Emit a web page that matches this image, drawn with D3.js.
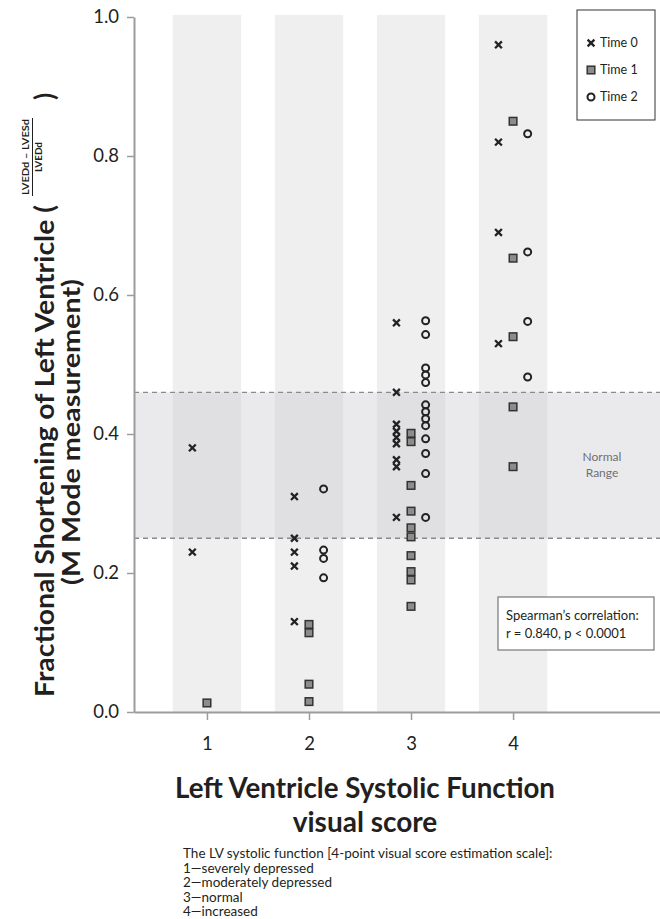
<!DOCTYPE html>
<html>
<head>
<meta charset="utf-8">
<script src="https://cdn.jsdelivr.net/npm/d3@7"></script>
<style>
  body { margin: 0; background: #fff; }
  text { font-family: Lato, "Open Sans", sans-serif; fill: #231f20; }
</style>
</head>
<body>
<div id="canvas"></div>
<script>
// valores: [puntaje visual, acortamiento fraccional]
var scores = [1, 2, 3, 4];
var yTicks = [0, 0.2, 0.4, 0.6, 0.8, 1.0];
var normalRange = [0.25, 0.46];

var time0 = [
  [1, 0.38], [1, 0.23],
  [2, 0.31], [2, 0.25], [2, 0.23], [2, 0.21], [2, 0.13],
  [3, 0.56], [3, 0.46], [3, 0.414], [3, 0.404], [3, 0.395], [3, 0.386], [3, 0.363], [3, 0.353], [3, 0.28],
  [4, 0.96], [4, 0.82], [4, 0.69], [4, 0.53]
];
var time1 = [
  [1, 0.013],
  [2, 0.126], [2, 0.114], [2, 0.04], [2, 0.015],
  [3, 0.401], [3, 0.389], [3, 0.326], [3, 0.289], [3, 0.265], [3, 0.252], [3, 0.225], [3, 0.202], [3, 0.19], [3, 0.152],
  [4, 0.85], [4, 0.653], [4, 0.54], [4, 0.439], [4, 0.353]
];
var time2 = [
  [2, 0.321], [2, 0.233], [2, 0.221], [2, 0.193],
  [3, 0.563], [3, 0.543], [3, 0.495], [3, 0.485], [3, 0.474], [3, 0.442], [3, 0.432], [3, 0.422], [3, 0.412], [3, 0.393], [3, 0.372], [3, 0.343], [3, 0.28],
  [4, 0.832], [4, 0.662], [4, 0.562], [4, 0.482]
];
var legendLabels = ["Time 0", "Time 1", "Time 2"];
var scaleNotes = [
  "The LV systolic function [4-point visual score estimation scale]:",
  "1\u2014severely depressed",
  "2\u2014moderately depressed",
  "3\u2014normal",
  "4\u2014increased"
];

var W = 660, H = 919;
var svg = d3.select("#canvas").append("svg")
  .attr("width", W)
  .attr("height", H);

var x = d3.scaleLinear().domain([0.285, 5.44]).range([134, 660]);
var y = d3.scaleLinear().domain([0, 1]).range([712, 17]);
var offset = 0.143; // desplazamiento de cada serie dentro de la columna
var half = 0.335;   // medio ancho de la banda de cada columna

// bandas grises de cada puntaje
svg.selectAll("rect.col")
  .data(scores)
  .enter().append("rect")
  .attr("class", "col")
  .attr("x", d => x(d - half))
  .attr("width", d => x(d + half) - x(d - half))
  .attr("y", y(1.003))
  .attr("height", y(0) - y(1.003))
  .style("fill", "#efeff0");

// rango normal
svg.append("rect")
  .attr("x", x.range()[0])
  .attr("width", x.range()[1] - x.range()[0])
  .attr("y", y(normalRange[1]))
  .attr("height", y(normalRange[0]) - y(normalRange[1]))
  .style("fill", "#c4c4ca")
  .style("opacity", 0.36);

svg.selectAll("line.nr")
  .data(normalRange)
  .enter().append("line")
  .attr("class", "nr")
  .attr("x1", x.range()[0]).attr("x2", x.range()[1])
  .attr("y1", d => y(d)).attr("y2", d => y(d))
  .style("stroke", "#8a8a8e")
  .style("stroke-width", 1.3)
  .style("stroke-dasharray", "5,4");

svg.append("text")
  .attr("x", 602).attr("y", 461)
  .attr("text-anchor", "middle")
  .style("font-size", "12px").style("fill", "#6f6f73")
  .text("Normal");
svg.append("text")
  .attr("x", 602).attr("y", 477)
  .attr("text-anchor", "middle")
  .style("font-size", "12px").style("fill", "#6f6f73")
  .text("Range");

// ejes
var yAxis = svg.append("g")
  .attr("transform", "translate(" + x.range()[0] + ",0)")
  .call(d3.axisLeft(y).tickValues(yTicks).tickFormat(d3.format(".1f")).tickSize(7).tickSizeOuter(0).tickPadding(8));
var xAxis = svg.append("g")
  .attr("transform", "translate(0," + y(0) + ")")
  .call(d3.axisBottom(x).tickValues(scores).tickFormat(d3.format("d")).tickSize(8).tickSizeOuter(0).tickPadding(17));

[yAxis, xAxis].forEach(function (g) {
  g.select(".domain").style("stroke", "#9c9c9c").style("stroke-width", 2);
  g.selectAll(".tick line").style("stroke", "#9c9c9c").style("stroke-width", 1.5);
  g.selectAll(".tick text").style("font-size", "18.5px").style("font-family", "Lato, sans-serif").style("fill", "#231f20");
});

// marcadores
function cross(g, cx, cy, s) {
  g.append("path")
    .attr("d", "M" + (cx - s) + "," + (cy - s) + "L" + (cx + s) + "," + (cy + s) +
               "M" + (cx - s) + "," + (cy + s) + "L" + (cx + s) + "," + (cy - s))
    .style("stroke", "#222").style("stroke-width", 2.3).style("fill", "none");
}
function square(g, cx, cy) {
  g.append("rect")
    .attr("x", cx - 3.8).attr("y", cy - 3.8)
    .attr("width", 7.6).attr("height", 7.6)
    .style("fill", "#8c8c8c").style("stroke", "#333").style("stroke-width", 1.5);
}
function circle(g, cx, cy) {
  g.append("circle")
    .attr("cx", cx).attr("cy", cy).attr("r", 3.5)
    .style("fill", "none").style("stroke", "#222").style("stroke-width", 2);
}

var pts = svg.append("g");
time0.forEach(d => cross(pts, x(d[0] - offset), y(d[1]), 3.4));
time1.forEach(d => square(pts, x(d[0]), y(d[1])));
time2.forEach(d => circle(pts, x(d[0] + offset), y(d[1])));

// leyenda
svg.append("rect")
  .attr("x", 577).attr("y", 10).attr("width", 78).attr("height", 110)
  .style("fill", "#fff").style("stroke", "#333").style("stroke-width", 1);
var lg = svg.append("g");
cross(lg, 591, 43, 3.4);
square(lg, 591, 70);
circle(lg, 591, 97);
legendLabels.forEach(function (t, i) {
  lg.append("text")
    .attr("x", 600).attr("y", 47 + i * 27)
    .style("font-size", "12.5px")
    .text(t);
});

// caja de correlacion
svg.append("rect")
  .attr("x", 498).attr("y", 597).attr("width", 156).attr("height", 53)
  .style("fill", "#fff").style("stroke", "#777").style("stroke-width", 1.2);
svg.append("text").attr("x", 506).attr("y", 620).style("font-size", "13px").text("Spearman\u2019s correlation:");
svg.append("text").attr("x", 506).attr("y", 638).style("font-size", "13px").text("r = 0.840, p < 0.0001");

// titulo eje y (rotado)
function vtext(cx, cy, txt, size, anchor, len) {
  var t = svg.append("text")
    .attr("transform", "translate(" + cx + "," + cy + ") rotate(-90)")
    .attr("text-anchor", anchor)
    .style("font-size", size + "px")
    .style("font-weight", 700)
    .text(txt);
  if (len) t.attr("textLength", len).attr("lengthAdjust", "spacingAndGlyphs");
  return t;
}
vtext(54, 697, "Fractional Shortening of Left Ventricle (", 26, "start", 492);
vtext(29, 157, "LVEDd \u2013 LVESd", 9, "middle", 76);
vtext(42, 157, "LVEDd", 9, "middle", 30);
svg.append("line")
  .attr("x1", 32.5).attr("x2", 32.5).attr("y1", 118).attr("y2", 196)
  .style("stroke", "#231f20").style("stroke-width", 1);
vtext(54, 100, ")", 26, "start");
vtext(80, 432, "(M Mode measurement)", 24, "middle", 306);

// titulo eje x
svg.append("text")
  .attr("x", 365).attr("y", 798)
  .attr("text-anchor", "middle")
  .attr("textLength", 380).attr("lengthAdjust", "spacingAndGlyphs")
  .style("font-size", "28px").style("font-weight", 700)
  .text("Left Ventricle Systolic Function");
svg.append("text")
  .attr("x", 365).attr("y", 832)
  .attr("text-anchor", "middle")
  .style("font-size", "28px").style("font-weight", 700)
  .text("visual score");

// notas de la escala
svg.selectAll("text.note")
  .data(scaleNotes)
  .enter().append("text")
  .attr("class", "note")
  .attr("x", 183)
  .attr("y", (d, i) => 858 + i * 14.5)
  .style("font-size", "13.5px")
  .text(d => d);
</script>
</body>
</html>
